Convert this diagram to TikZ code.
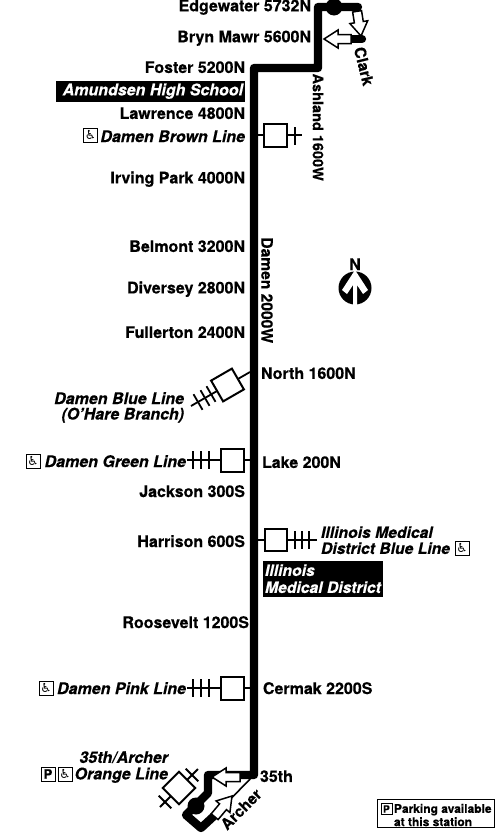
\documentclass[tikz,border=0pt]{standalone}
\usepackage{fontspec}
\setmainfont[BoldFeatures={FakeBold=0.4},BoldItalicFeatures={FakeBold=0.4}]{TeX Gyre Heros}
\newfontfamily\symfont{DejaVu Sans}
\usetikzlibrary{calc}
\newcommand{\wheelmark}{{\symfont\fontsize{12.5}{12.5}\selectfont ♿}}
\newcommand{\txfont}{\fontsize{16}{17}\selectfont\bfseries}
\newcommand{\imdfont}{\fontsize{15.7}{17}\selectfont\bfseries\itshape}
\newcommand{\flowarrow}[4]{% x y angle length
  \begin{scope}[shift={(#1,#2)},rotate=#3]
    \draw[line width=1.5pt,fill=white,line join=miter]
      (0,0) -- (-14,9) -- (-14,4.5) -- (-#4,4.5) -- (-#4,-4.5) -- (-14,-4.5) -- (-14,-9) -- cycle;
  \end{scope}}
\newcommand{\tickat}[3]{% x y angle
  \begin{scope}[shift={(#1,#2)},rotate=#3]
    \draw[tickline] (0,-9) -- (0,9);
  \end{scope}}
\tikzset{
  x=1pt,y=-1pt,
  base/.style={inner sep=0pt,outer sep=0pt,font=\txfont,yshift=-0.2pt},
  sl/.style={base,anchor=east},
  sr/.style={base,anchor=west},
  itl/.style={base,anchor=east,font=\txfont\itshape},
  itr/.style={base,anchor=west,font=\imdfont},
  road/.style={base,font=\fontsize{15.6}{17}\selectfont\bfseries},
  rail/.style={line width=8.3pt,line join=round,line cap=round},
  thinrail/.style={line width=1.6pt},
  stem/.style={line width=1.8pt},
  tickline/.style={line width=1.8pt},
  stnbox/.style={draw,line width=2pt,fill=white,minimum size=#1,inner sep=0pt,outer sep=0pt},
  icon/.style={draw,line width=.8pt,minimum size=14pt,inner sep=0pt,outer sep=0pt},
  picon/.style={draw,line width=.8pt,minimum size=14pt,inner sep=0pt,outer sep=0pt,font=\fontsize{13}{13}\selectfont\bfseries},
  blackbox/.style={fill=black,text=white,inner sep=0pt,outer sep=0pt},
}
\begin{document}
\begin{tikzpicture}
\useasboundingbox (0,0) rectangle (500,833);

% main route
\coordinate (lineTop) at (358,7);
\coordinate (lineA) at (318,7);
\coordinate (lineB) at (318,68);
\coordinate (lineC) at (254,68);
\coordinate (lineD) at (254,775);
\coordinate (lineE) at (208,775);
\coordinate (lineF) at (208,793);
\coordinate (lineG) at (186,815);
\coordinate (lineH) at (201,828);
\coordinate (lineI) at (214,816);
\draw[rail] (lineTop) -- (lineA) -- (lineB) -- (lineC) -- (lineD) -- (lineE) -- (lineF) -- (lineG) -- (lineH) -- (lineI);
\draw[thinrail] (lineI) -- (lineD);
\fill (334,7) circle (8.5);
\fill (196,806) circle (8.5);
% Clark
\coordinate (clarkA) at (358,7);
\coordinate (clarkB) at (362,39);
\coordinate (clarkC) at (352,39);
\draw[thinrail] (clarkA) -- (clarkB);
\draw[rail] (clarkB) -- (clarkC);
% direction arrows
\flowarrow{361}{36}{-81}{25}
\flowarrow{324}{39}{180}{27}
\flowarrow{212}{777}{180}{28}
\flowarrow{232}{796}{50}{27}

% station labels
\node[sl] (edgewater) at (311,7) {Edgewater 5732N};
\node[sl] (brynmawr) at (311,38) {Bryn Mawr 5600N};
\node[sl] (foster) at (245,67) {Foster 5200N};
\node[blackbox,minimum width=189pt,minimum height=21pt] (amundsenbox) at (150.5,91.5) {};
\node[itl,text=white] (amundsen) at (243,91) {Amundsen High School};
\node[sl] (lawrence) at (245,113) {Lawrence 4800N};
\node[itl] (brownlbl) at (245,136) {Damen Brown Line};
\node[icon] (brownicon) at (90.5,135) {\wheelmark};
\node[sl] (irving) at (245,179) {Irving Park 4000N};
\node[sl] (belmont) at (245,246) {Belmont 3200N};
\node[sl] (diversey) at (245,289) {Diversey 2800N};
\node[sl] (fullerton) at (245,332) {Fullerton 2400N};
\node[sr] (north) at (261,373) {North 1600N};
\node[itl] (bluelbl) at (184,398) {Damen Blue Line};
\node[itl] (ohare) at (184,415) {(O'Hare Branch)};
\node[sr] (lake) at (262,462) {Lake 200N};
\node[itl] (greenlbl) at (186,461) {Damen Green Line};
\node[icon] (greenicon) at (33,461) {\wheelmark};
\node[sl] (jackson) at (245,491) {Jackson 300S};
\node[sl] (harrison) at (245,541) {Harrison 600S};
\node[itr] (imdblue1) at (321,532) {Illinois Medical};
\node[itr] (imdblue2) at (321,548) {District Blue Line};
\node[icon] (imdicon) at (462,548) {\wheelmark};
\node[blackbox,minimum width=120pt,minimum height=36pt] (imdbox) at (323,579) {};
\node[itr,text=white] (imd1) at (265,570) {Illinois};
\node[itr,text=white] (imd2) at (265,587) {Medical District};
\node[sl] (roosevelt) at (249,622) {Roosevelt 1200S};
\node[itl] (pinklbl) at (186,688) {Damen Pink Line};
\node[icon] (pinkicon) at (46,688) {\wheelmark};
\node[sr] (cermak) at (263,688) {Cermak 2200S};
\node[itl] (orange1) at (168,757) {35th/Archer};
\node[itl] (orange2) at (168,775) {Orange Line};
\node[picon] (orangeP) at (48,774) {P};
\node[icon] (orangeicon) at (65,774) {\wheelmark};
\node[sr] (thirtyfifth) at (260,776) {35th};

% street labels
\node[road,rotate=-90,font=\fontsize{14.5}{17}\selectfont\bfseries] (ashland) at (318,127) {Ashland 1600W};
\node[road,rotate=-90] (damen) at (267,290) {Damen 2000W};
\node[road,rotate=-76] (clark) at (364,66) {Clark};
\node[road,rotate=45] (archer) at (241,809) {Archer};

% Brown Line transfer
\coordinate (brownJ) at (254,135);
\coordinate (brownE) at (302,135);
\node[stnbox=23pt] (brownstn) at (275,135) {};
\draw[stem] (brownJ) -- (brownstn);
\draw[stem] (brownstn) -- (brownE);
\tickat{295}{136}{0}
% Blue Line transfer
\coordinate (blueJ) at (250,372);
\coordinate (blueE) at (191,406);
\node[stnbox=24pt,rotate=30] (bluestn) at (227.5,385) {};
\draw[stem] (blueJ) -- (bluestn);
\draw[stem] (bluestn) -- (blueE);
\tickat{211}{394}{30}
\tickat{205}{398}{30}
\tickat{198}{402}{30}
% Green Line transfer
\coordinate (greenJ) at (254,460);
\coordinate (greenE) at (187,460);
\node[stnbox=23pt] (greenstn) at (232,460) {};
\draw[stem] (greenJ) -- (greenstn);
\draw[stem] (greenstn) -- (greenE);
\tickat{209}{460}{0}
\tickat{201}{460}{0}
\tickat{193}{460}{0}
% Illinois Medical District transfer
\coordinate (imdJ) at (254,540);
\coordinate (imdE) at (317,540);
\node[stnbox=22pt] (imdstn) at (275.5,540) {};
\draw[stem] (imdJ) -- (imdstn);
\draw[stem] (imdstn) -- (imdE);
\tickat{295}{540}{0}
\tickat{302}{540}{0}
\tickat{309}{540}{0}
% Pink Line transfer
\coordinate (pinkJ) at (254,688);
\coordinate (pinkE) at (187,688);
\node[stnbox=23pt] (pinkstn) at (232,688) {};
\draw[stem] (pinkJ) -- (pinkstn);
\draw[stem] (pinkstn) -- (pinkE);
\tickat{209}{688}{0}
\tickat{201}{688}{0}
\tickat{193}{688}{0}
% Orange Line transfer
\coordinate (orangeJ) at (198,769);
\coordinate (orangeE) at (160,807);
\node[stnbox=23pt,rotate=45] (orangestn) at (179,788) {};
\draw[stem] (orangeJ) -- (orangestn);
\draw[stem] (orangestn) -- (orangeE);
\tickat{192}{775}{45}
\tickat{165}{802}{45}

% north arrow
\node[base] (northN) at (355,264) {N};
\fill (355,288) circle (16.5);
\fill[white] (355,270) -- (368,290) -- (363,294) -- (357,285) -- (357,305) -- (353,305) -- (353,285) -- (347,294) -- (342,290) -- cycle;

% legend
\node[draw,line width=1pt,minimum width=117pt,minimum height=28pt,inner sep=0pt] (legend) at (435.5,813) {};
\node[picon,minimum size=11pt,font=\fontsize{10}{10}\selectfont\bfseries] (legendP) at (386.5,809) {P};
\node[base,anchor=west,font=\fontsize{12}{12}\selectfont\bfseries] (legend1) at (394,809.5) {Parking available};
\node[base,anchor=west,font=\fontsize{12}{12}\selectfont\bfseries] (legend2) at (394,821.5) {at this station};
\end{tikzpicture}
\end{document}
